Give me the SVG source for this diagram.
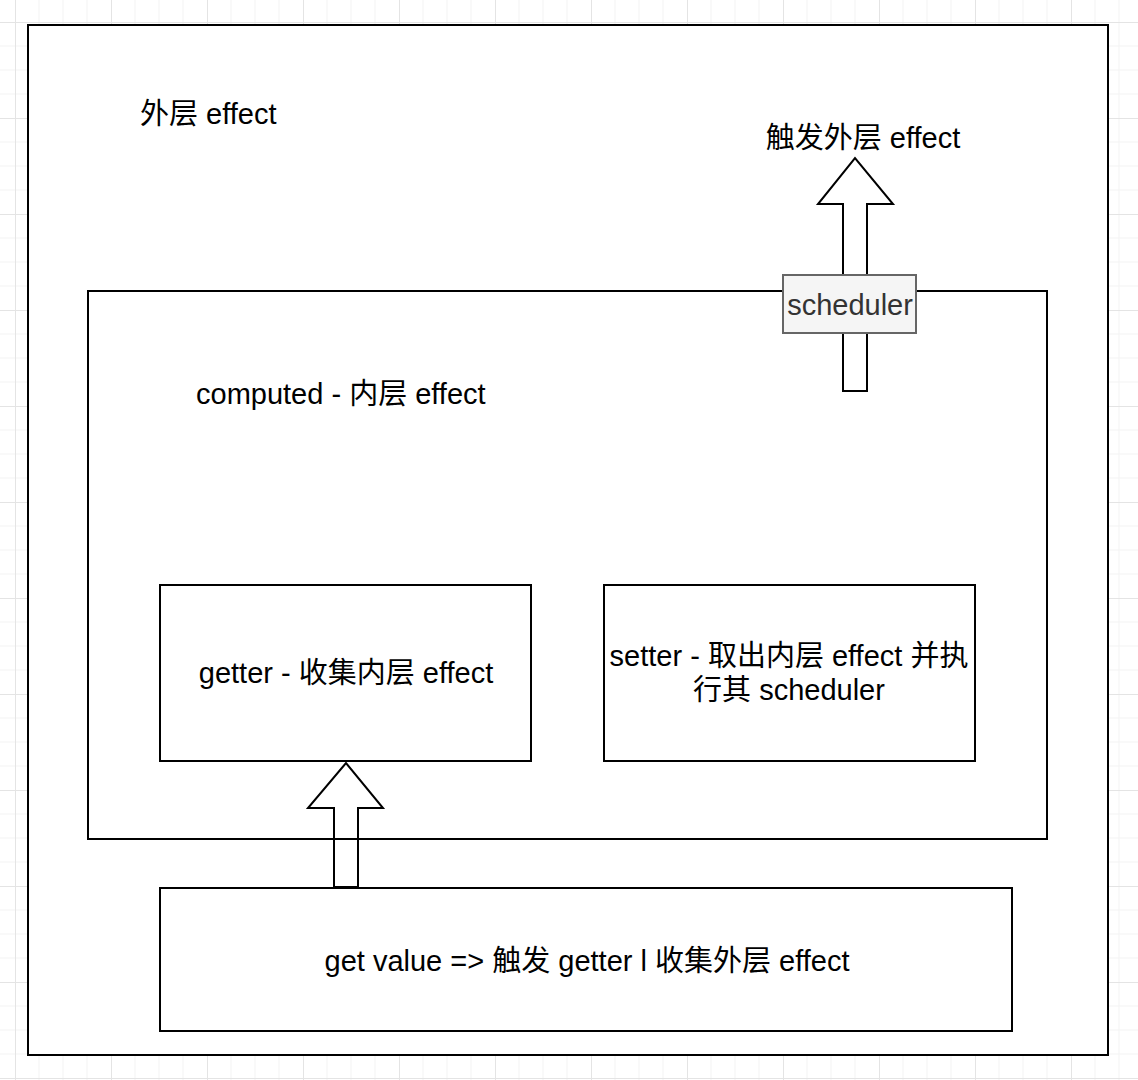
<svg xmlns="http://www.w3.org/2000/svg" width="1138" height="1080" viewBox="0 0 1138 1080">
<defs>
<pattern id="grid" x="15" y="22" width="96" height="96" patternUnits="userSpaceOnUse">
<path d="M24 0V96M48 0V96M72 0V96M0 24H96M0 48H96M0 72H96" stroke="#f3f3f3" stroke-width="1" fill="none"/>
<path d="M0.5 0V96M0 0.5H96" stroke="#e4e4e4" stroke-width="1" fill="none"/>
</pattern>
<style>
.box{fill:#ffffff;stroke:#000000;stroke-width:2}
.frame{fill:none;stroke:#000000;stroke-width:2}
.arrow{fill:#ffffff;stroke:#000000;stroke-width:2;stroke-linejoin:miter}
.t{font-family:"Liberation Sans","Noto Sans CJK SC",sans-serif;font-size:29px;fill:#000000}
.c{text-anchor:middle}
.sched{fill:#f5f5f5;stroke:#666666;stroke-width:2}
</style>
</defs>
<rect width="1138" height="1080" fill="#ffffff"/>
<rect width="1138" height="1080" fill="url(#grid)"/>

<g id="outer">
<rect class="box" x="28" y="25" width="1080" height="1030"/>
<text class="t" x="140" y="124">外层 effect</text>
</g>

<g id="connectors">
<polygon id="arrow-getvalue" class="arrow" points="334,887 334,808 308,808 346,763 383,808 358,808 358,887"/>
</g>

<g id="computed">
<rect class="frame" x="88" y="291" width="959" height="548"/>
<text class="t" x="196" y="404">computed - 内层 effect</text>
</g>

<g id="connectors2">
<polygon id="arrow-trigger" class="arrow" points="843,391 843,204 818,204 855,158 893,204 867,204 867,391"/>
</g>

<g id="scheduler">
<rect class="sched" x="783" y="275" width="133" height="58"/>
<text class="t c" x="850" y="315" style="fill:#333333">scheduler</text>
</g>

<g id="trigger-label">
<text class="t c" x="863" y="148">触发外层 effect</text>
</g>

<g id="getter">
<rect class="box" x="160" y="585" width="371" height="176"/>
<text class="t c" x="346" y="683">getter - 收集内层 effect</text>
</g>

<g id="setter">
<rect class="box" x="604" y="585" width="371" height="176"/>
<text class="t c" x="789" y="666">setter - 取出内层 effect 并执</text>
<text class="t c" x="789" y="700">行其 scheduler</text>
</g>

<g id="getvalue">
<rect class="box" x="160" y="888" width="852" height="143"/>
<text class="t c" x="587" y="971">get value =&gt; 触发 getter l 收集外层 effect</text>
</g>
</svg>
